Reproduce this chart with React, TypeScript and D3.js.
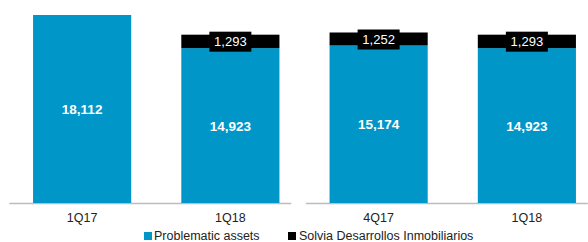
import React from 'react'
import { scaleBand, scaleLinear } from 'd3'

const categories = ['1Q17', '1Q18', '4Q17', '1Q18']
const problematic = [18112, 14923, 15174, 14923]
const solvia = [0, 1293, 1252, 1293]
const groups = [[0, 1], [2, 3]]

const width = 588
const height = 242
const baseY = 203
const blue = '#0096c8'
const font = 'Liberation Sans, Arial, sans-serif'
const fmt = (v: number) => v.toLocaleString('en-US')

export default function App() {
  const x = scaleBand<number>()
    .domain(categories.map((_, i) => i))
    .range([8, 601])
    .paddingInner(0.338)
    .paddingOuter(0.169)

  const y = scaleLinear().domain([0, 18112]).range([baseY, 15])
  const bw = x.bandwidth()
  const step = x.step()

  return (
    <svg width={width} height={height} style={{ position: 'absolute', left: 0, top: 0 }}>
      <g fontFamily={font}>
        {groups.map((g, k) => (
          <line
            key={'ax' + k}
            x1={x(g[0])! - step * 0.16}
            x2={x(g[g.length - 1])! + bw + step * 0.08}
            y1={baseY + 0.5}
            y2={baseY + 0.5}
            stroke="#bdbdbd"
            strokeWidth={1.5}
          />
        ))}
        {categories.map((c, i) => {
          const x0 = x(i)!
          const cx = x0 + bw / 2
          const top1 = y(problematic[i])
          const top2 = y(problematic[i] + solvia[i])
          return (
            <g key={i}>
              <rect x={x0} y={top1} width={bw} height={baseY - top1} fill={blue} />
              {solvia[i] > 0 && (
                <g>
                  <rect x={x0} y={top2} width={bw} height={top1 - top2} fill="#000" />
                  <rect x={cx - 21} y={top2 - 3} width={42} height={20} fill="#000" />
                  <text x={cx} y={(top1 + top2) / 2 + 5} textAnchor="middle" fill="#fff" fontSize={13}>
                    {fmt(solvia[i])}
                  </text>
                </g>
              )}
              <text
                x={cx}
                y={(baseY + top1) / 2 + 5}
                textAnchor="middle"
                fill="#fff"
                fontSize={13.5}
                fontWeight="bold"
              >
                {fmt(problematic[i])}
              </text>
              <text x={cx} y={222} textAnchor="middle" fill="#222" fontSize={12.5}>
                {c}
              </text>
            </g>
          )
        })}
        <rect x={144} y={232} width={8} height={8} fill={blue} />
        <text x={154} y={240} fontSize={12.5} fill="#222">Problematic assets</text>
        <rect x={288} y={232} width={8} height={8} fill="#000" />
        <text x={299} y={240} fontSize={12.5} fill="#222">Solvia Desarrollos Inmobiliarios</text>
      </g>
    </svg>
  )
}
